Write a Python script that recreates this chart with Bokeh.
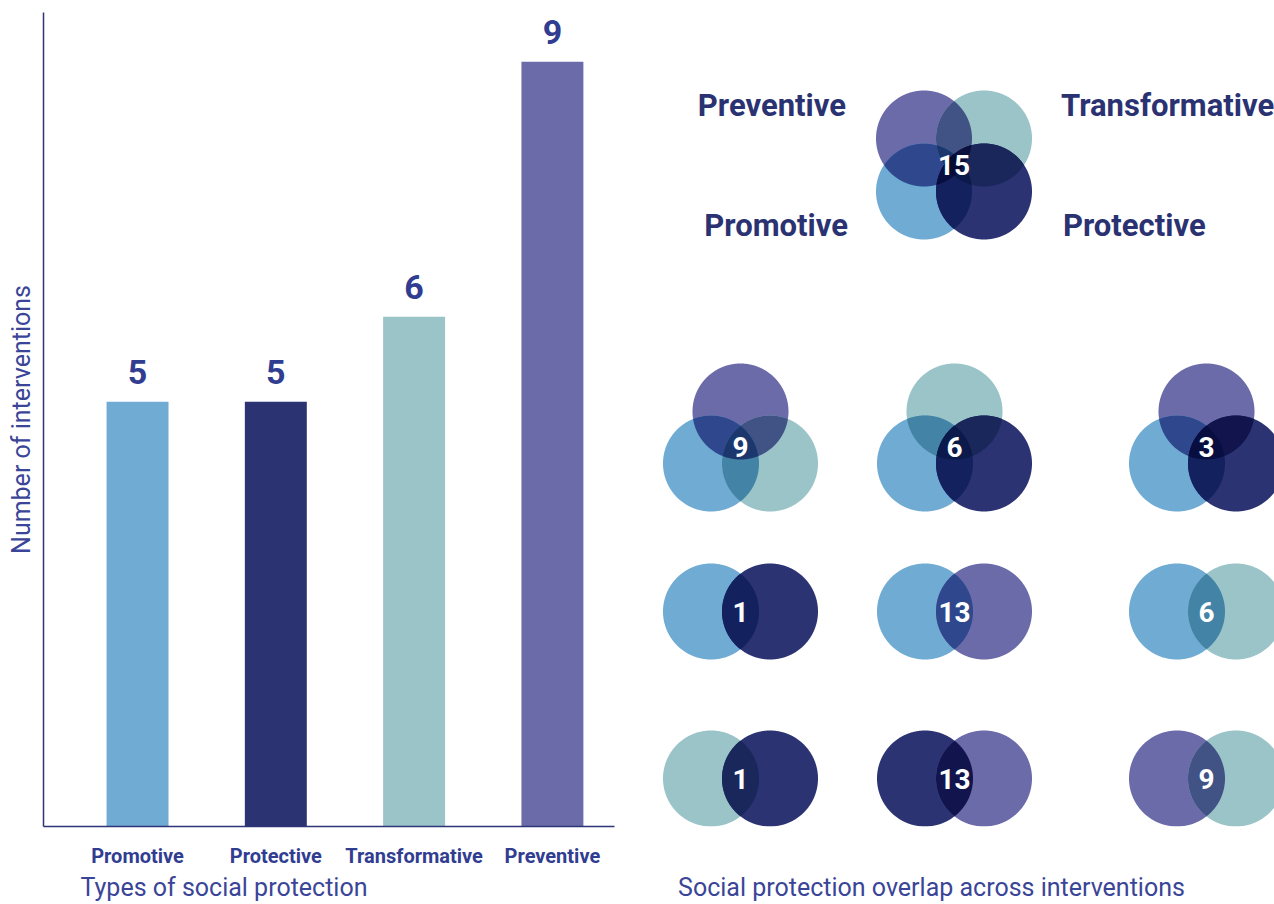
import numpy as np
from itertools import combinations
from bokeh.plotting import figure
from bokeh.layouts import row
from bokeh.models import Range1d, FixedTicker, ColumnDataSource, LinearAxis
from bokeh.core.properties import value
from bokeh.embed import file_html
from bokeh.resources import INLINE

# ---------------- data ----------------
categories = ["Promotive", "Protective", "Transformative", "Preventive"]
interventions = [5, 5, 6, 9]
category_colors = {
    "Promotive": "#6FABD3",
    "Protective": "#2B3373",
    "Transformative": "#9AC4C8",
    "Preventive": "#6C6BAA",
}

# all four types (order: top-left, top-right, bottom-left, bottom-right)
all_four_sets = ["Preventive", "Transformative", "Promotive", "Protective"]
all_four_count = 15
# three-type overlaps (order: top, bottom-left, bottom-right)
triple_sets = [
    ["Preventive", "Promotive", "Transformative"],
    ["Transformative", "Promotive", "Protective"],
    ["Preventive", "Promotive", "Protective"],
]
triple_counts = [9, 6, 3]
# two-type overlaps (order: left, right)
pair_sets = [
    ["Promotive", "Protective"],
    ["Promotive", "Preventive"],
    ["Promotive", "Transformative"],
    ["Transformative", "Protective"],
    ["Protective", "Preventive"],
    ["Preventive", "Transformative"],
]
pair_counts = [1, 13, 6, 1, 13, 9]

left_caption = "Types of social protection"
right_caption = "Social protection overlap across interventions"

TEXT_BLUE = "#303D91"
LABEL_NAVY = "#2B3272"
LIGHT_BLUE_TEXT = "#3A4598"
FONT = "Roboto"

FRAME_TOP = 12
FRAME_BOTTOM = 826
H = 904

# ---------------- left: bar chart ----------------
idx = list(range(len(categories)))
p1 = figure(width=640, height=H, output_backend="svg", toolbar_location=None,
            x_range=Range1d(-0.68, 3.449), y_range=Range1d(0, 9.58),
            title=left_caption, title_location="below",
            min_border_left=43, min_border_right=26, min_border_top=FRAME_TOP,
            min_border_bottom=H - FRAME_BOTTOM)
p1.outline_line_color = None
p1.grid.visible = False

src = ColumnDataSource(dict(x=idx, top=interventions, label=[str(v) for v in interventions],
                            color=[category_colors[c] for c in categories]))
p1.vbar(x="x", top="top", width=0.448, fill_color="color", line_color=None, source=src)
p1.text(x="x", y="top", text="label", source=src, text_align="center", text_baseline="alphabetic",
        y_offset=-30, text_font=value(FONT), text_font_style="bold", text_font_size="34px",
        text_color=TEXT_BLUE)

ax = p1.xaxis[0]
ax.ticker = FixedTicker(ticks=idx)
ax.major_label_overrides = {t: l for t, l in zip(idx, categories)}
ax.major_label_text_font = FONT
ax.major_label_text_font_style = "bold"
ax.major_label_text_font_size = "20px"
ax.major_label_text_color = TEXT_BLUE
ax.major_label_standoff = 11
ax.major_tick_line_color = None
ax.minor_tick_line_color = None
ax.axis_line_color = "#2D3578"
ax.axis_line_width = 1.5

p1.yaxis.ticker = FixedTicker(ticks=[])
p1.yaxis.major_label_text_font_size = "0px"
p1.yaxis.major_tick_line_color = None
p1.yaxis.minor_tick_line_color = None
p1.yaxis.axis_line_color = "#2D3578"
p1.yaxis.axis_line_width = 1.5
p1.yaxis.axis_label = "Number of interventions"
p1.yaxis.axis_label_text_font = FONT
p1.yaxis.axis_label_text_font_style = "normal"
p1.yaxis.axis_label_text_font_size = "25px"
p1.yaxis.axis_label_text_color = LIGHT_BLUE_TEXT
p1.yaxis.axis_label_standoff = 8

p1.title.align = "left"
p1.title.offset = 37
p1.title.standoff = 1
p1.title.text_font = FONT
p1.title.text_font_style = "normal"
p1.title.text_font_size = "25px"
p1.title.text_color = LIGHT_BLUE_TEXT

# ---------------- right: overlap diagrams ----------------
X0 = 640
p2 = figure(width=1274 - X0, height=H, output_backend="svg", toolbar_location=None,
            x_range=Range1d(X0, 1274), y_range=Range1d(-FRAME_BOTTOM, -FRAME_TOP),
            x_axis_location=None, y_axis_location=None,
            min_border_left=0, min_border_right=0, min_border_top=FRAME_TOP,
            min_border_bottom=H - FRAME_BOTTOM)
p2.outline_line_color = None
p2.grid.visible = False

# caption of the right panel, carried by a bare bottom axis (single tick label)
cap_x = 931
cap_axis = LinearAxis(ticker=FixedTicker(ticks=[cap_x]),
                      major_label_overrides={cap_x: right_caption})
cap_axis.axis_line_color = None
cap_axis.major_tick_line_color = None
cap_axis.minor_tick_line_color = None
cap_axis.major_label_standoff = 40
cap_axis.major_label_text_font = FONT
cap_axis.major_label_text_font_style = "normal"
cap_axis.major_label_text_font_size = "25px"
cap_axis.major_label_text_color = LIGHT_BLUE_TEXT
p2.add_layout(cap_axis, "below")

R = 48.0


def rgb(h):
    h = h.lstrip("#")
    return np.array([int(h[i:i + 2], 16) for i in (0, 2, 4)], dtype=float)


def multiply(cols):
    c = np.ones(3) * 255.0
    for h in cols:
        c = c * rgb(h) / 255.0
    c = np.round(c).astype(int)
    return "#%02X%02X%02X" % tuple(c)


TH = np.linspace(0, 2 * np.pi, 720, endpoint=False)


def intersection(centers, r):
    pts = []
    for i, (cx, cy) in enumerate(centers):
        px = cx + r * np.cos(TH)
        py = cy + r * np.sin(TH)
        mask = np.ones_like(px, dtype=bool)
        for j, (ox, oy) in enumerate(centers):
            if j != i:
                mask &= np.hypot(px - ox, py - oy) <= r + 1e-6
        pts.extend(zip(px[mask], py[mask]))
    if len(pts) < 3:
        return None
    pts = np.array(pts)
    m = pts.mean(axis=0)
    ang = np.arctan2(pts[:, 1] - m[1], pts[:, 0] - m[0])
    pts = pts[np.argsort(ang)]
    return list(pts[:, 0]), list(pts[:, 1])


diagrams = []  # (list of (category, (x, y page)), count, number position page)
cx4, cy4 = 953.5, 164.5
offs4 = [(-30, -26.5), (30, -26.5), (-30, 26.5), (30, 26.5)]
diagrams.append(([(c, (cx4 + dx, cy4 + dy)) for c, (dx, dy) in zip(all_four_sets, offs4)],
                 all_four_count, (cx4, cy4)))
cols_x = [740, 954, 1206]
rows_y = [437, 611, 778]
offs3 = [(0, -26), (-29.5, 26), (29.5, 26)]
for k, (s, n) in enumerate(zip(triple_sets, triple_counts)):
    cx, cy = cols_x[k], rows_y[0]
    diagrams.append(([(c, (cx + dx, cy + dy)) for c, (dx, dy) in zip(s, offs3)], n, (cx, cy + 9)))
offs2 = [(-29.5, 0), (29.5, 0)]
for k, (s, n) in enumerate(zip(pair_sets, pair_counts)):
    cx, cy = cols_x[k % 3], rows_y[1 + k // 3]
    diagrams.append(([(c, (cx + dx, cy + dy)) for c, (dx, dy) in zip(s, offs2)], n, (cx, cy)))

# regions painted in order of subset size; overlaps in multiply colours
for size in (1, 2, 3, 4):
    xs, ys, cs = [], [], []
    for circles, n, pos in diagrams:
        for sub in combinations(circles, size):
            centers = [(x, -y) for _, (x, y) in sub]
            poly = intersection(centers, R)
            if poly is None:
                continue
            xs.append(poly[0])
            ys.append(poly[1])
            cs.append(multiply([category_colors[c] for c, _ in sub]))
    if xs:
        p2.patches(xs=xs, ys=ys, fill_color=cs, line_color=None)

# counts
p2.text(x=[d[2][0] for d in diagrams], y=[-d[2][1] for d in diagrams],
        text=[str(d[1]) for d in diagrams], text_align="center", text_baseline="middle",
        text_font=value(FONT), text_font_style="bold", text_font_size="28px", text_color="white")

# category labels around the four-way diagram
lab_left = ["Preventive", "Promotive"]
lab_right = ["Transformative", "Protective"]
p2.text(x=[cx4 - 108, cx4 - 106], y=[-(cy4 - 60), -(cy4 + 60)], text=lab_left,
        text_align="right", text_baseline="middle", text_font=value(FONT),
        text_font_style="bold", text_font_size="31px", text_color=LABEL_NAVY)
p2.text(x=[cx4 + 107, cx4 + 109], y=[-(cy4 - 60), -(cy4 + 60)], text=lab_right,
        text_align="left", text_baseline="middle", text_font=value(FONT),
        text_font_style="bold", text_font_size="31px", text_color=LABEL_NAVY)

layout = row(p1, p2)
open("out.html", "w").write(file_html(layout, INLINE))
